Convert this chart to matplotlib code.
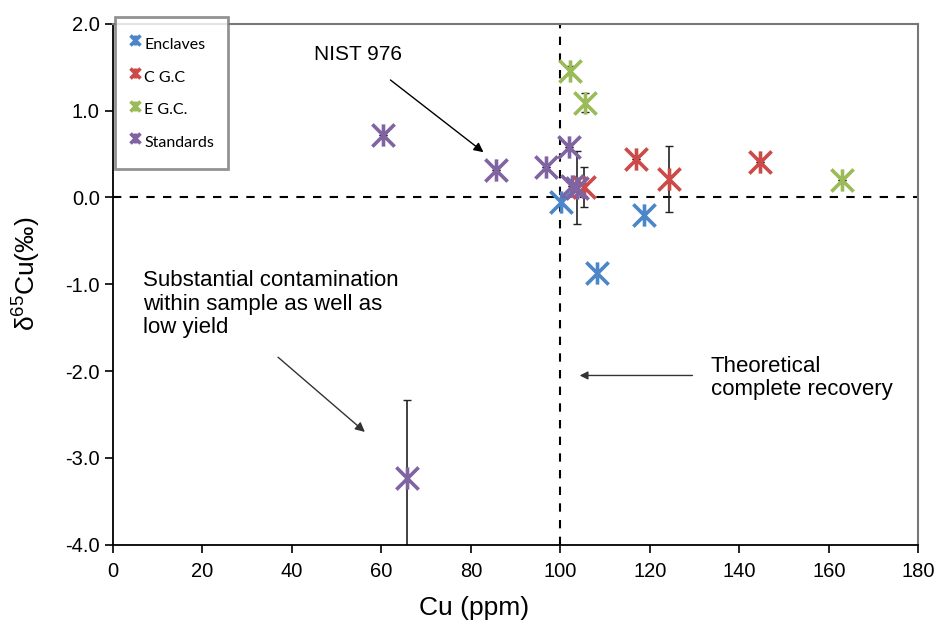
import matplotlib.pyplot as plt
from matplotlib.path import Path

plt.rcParams['font.family'] = ['Liberation Sans', 'DejaVu Sans']
plt.rcParams['mathtext.fontset'] = 'custom'
plt.rcParams['mathtext.rm'] = 'Liberation Sans'

# datos
enc_x = [100.2, 118.6, 108.2]
enc_y = [-0.05, -0.20, -0.87]

cgc_x = [116.8, 124.2, 144.5, 105.2]
cgc_y = [0.44, 0.21, 0.41, 0.12]
cgc_err = [0.0, 0.38, 0.0, 0.23]

egc_x = [102.2, 105.4, 162.9]
egc_y = [1.46, 1.09, 0.20]
egc_err = [0.05, 0.11, 0.0]

std_x = [60.3, 85.6, 96.8, 101.9, 102.6, 103.8, 65.7]
std_y = [0.72, 0.32, 0.35, 0.58, 0.13, 0.11, -3.23]
std_err = [0.0, 0.0, 0.0, 0.0, 0.0, 0.42, 0.90]

# marcador tipo Excel: X con linea vertical
estrella = Path([(-1, -1), (1, 1), (-1, 1), (1, -1), (0, -1), (0, 1)],
                [Path.MOVETO, Path.LINETO, Path.MOVETO, Path.LINETO, Path.MOVETO, Path.LINETO])

fig = plt.figure(figsize=(9.41, 6.22), dpi=100)
ax = fig.add_axes([0.120, 0.124, 0.856, 0.838])

mk = dict(marker=estrella, markersize=16, mew=2.6, linestyle='none')

for xs, ys, es in [(cgc_x, cgc_y, cgc_err), (egc_x, egc_y, egc_err), (std_x, std_y, std_err)]:
    ax.errorbar(xs, ys, yerr=es, fmt='none', ecolor='#222222', elinewidth=1.2, capsize=3, zorder=2)

ax.plot(enc_x, enc_y, color='#4a86c8', label='Enclaves', zorder=3, **mk)
ax.plot(cgc_x, cgc_y, color='#cc4a47', label='C G.C', zorder=3, **mk)
ax.plot(egc_x, egc_y, color='#9bbb59', label='E G.C.', zorder=3, **mk)
ax.plot(std_x, std_y, color='#8064a2', label='Standards', zorder=3, **mk)

ax.axhline(0, color='black', linestyle=(0, (4, 4)), linewidth=1.5, zorder=1)
ax.axvline(100, color='black', linestyle=(0, (4, 4)), linewidth=1.5, zorder=1)

ax.set_xlim(0, 180)
ax.set_ylim(-4, 2)
ax.set_xticks(range(0, 181, 20))
ax.set_yticks([2, 1, 0, -1, -2, -3, -4])
ax.set_yticklabels(['2.0', '1.0', '0.0', '-1.0', '-2.0', '-3.0', '-4.0'])
ax.tick_params(axis='both', labelsize=14.5, direction='out', length=6, width=1.2)
ax.tick_params(axis='x', pad=6)

for s in ['left', 'bottom']:
    ax.spines[s].set_linewidth(1.3)
for s in ['top', 'right']:
    ax.spines[s].set_color('#777777')
    ax.spines[s].set_linewidth(1.5)

ax.set_xlabel('Cu (ppm)', fontsize=19)
ax.xaxis.set_label_coords(0.448, -0.098)
ax.set_ylabel(r'δ$^{65}$Cu(‰)', fontsize=19)
ax.yaxis.set_label_coords(-0.088, 0.52)

# anotaciones
ax.annotate('NIST 976', xy=(82.8, 0.52), xytext=(54.8, 1.64), fontsize=15,
            ha='center', va='center',
            arrowprops=dict(arrowstyle='-|>', color='black', lw=1.0, shrinkA=15, shrinkB=0,
                            mutation_scale=14))
ax.text(6.8, -0.84, 'Substantial contamination\nwithin sample as well as\nlow yield', fontsize=16,
        ha='left', va='top', linespacing=1.15)
ax.annotate('', xy=(56.3, -2.70), xytext=(36.9, -1.84),
            arrowprops=dict(arrowstyle='-|>', color='#333333', lw=1.0, shrinkA=0, shrinkB=0, mutation_scale=14))
ax.text(133.6, -2.08, 'Theoretical\ncomplete recovery', fontsize=16, ha='left', va='center', linespacing=1.15)
ax.annotate('', xy=(104.3, -2.05), xytext=(129.5, -2.05),
            arrowprops=dict(arrowstyle='-|>', color='#333333', lw=1.0, shrinkA=0, shrinkB=0, mutation_scale=12))

leg = ax.legend(loc='upper left', bbox_to_anchor=(0.003, 1.012), borderaxespad=0, markerscale=0.45,
                handlelength=0.6, handleheight=2.0, handletextpad=0.3, labelspacing=0.5, borderpad=0.9,
                frameon=True, fancybox=False, prop={'family': 'Lato', 'size': 11.5})
leg.get_frame().set_edgecolor('#777777')
leg.get_frame().set_linewidth(2.0)

fig.savefig('out.png', dpi=100)
